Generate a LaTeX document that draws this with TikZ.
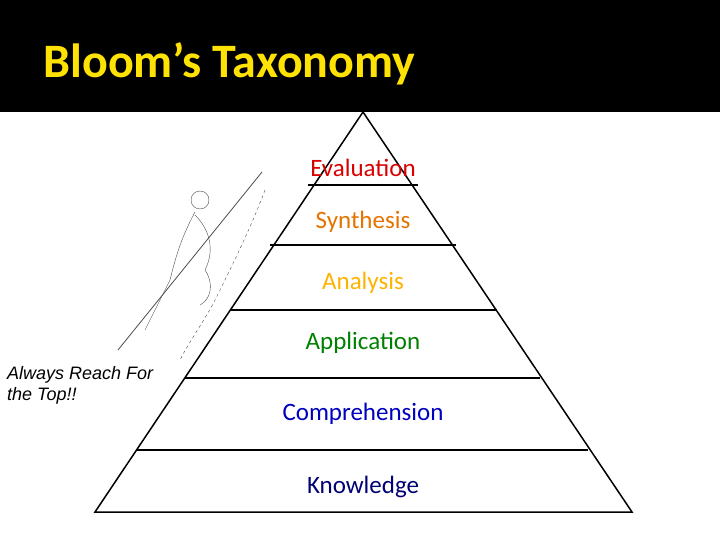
\documentclass[tikz,border=0pt]{standalone}
\usepackage{fontspec}
\setmainfont{Carlito}
\newfontfamily\arialf{Liberation Sans}
\begin{document}
\begin{tikzpicture}[x=1pt,y=-1pt,
  lvl/.style={font=\fontsize{25}{30}\selectfont},
  bar/.style={line width=2.5pt}]
\useasboundingbox (0,0) rectangle (720,540);
\fill[black] (0,0) rectangle (720,112);
\node[anchor=west,text=yellow!85!orange,font=\fontsize{48}{56}\selectfont\bfseries] (title) at (40,64) {Bloom’s Taxonomy};
\coordinate (apex) at (363,112);
\coordinate (bl) at (95,512);
\coordinate (br) at (632,512);
\draw[line width=1.5pt] (bl) -- (apex) -- (br) -- cycle;
\draw[bar] (308,185) -- (418,185);
\draw[bar] (270,245) -- (456,245);
\draw[bar] (230,310) -- (497,310);
\draw[bar] (185,378) -- (540,378);
\draw[bar] (137,450) -- (588,450);
\node[lvl,text=red!85!black] (ev) at (363,168) {Evaluation};
\node[lvl,text=orange!90!black] (sy) at (363,222) {Synthesis};
\node[lvl,text=orange!60!yellow] (an) at (363,283) {Analysis};
\node[lvl,text=green!50!black] (ap) at (363,343) {Application};
\node[lvl,text=blue!75!black] (co) at (363,414) {Comprehension};
\node[lvl,text=blue!45!black] (kn) at (363,487) {Knowledge};
\node[anchor=north west,align=left,font=\arialf\itshape\fontsize{18}{21}\selectfont,inner sep=0pt] (txt) at (7,366) {Always Reach For\\the Top!!};
% sketch of climber
\draw[line width=0.8pt,gray!60!black] (118,350) -- (262,172);
\draw[gray!60!black] (200,200) circle (9);
\draw[gray!60!black] (195,212) .. controls (180,240) and (175,260) .. (170,280)
  (195,215) .. controls (210,230) and (215,250) .. (205,270)
  (170,280) .. controls (160,300) and (150,320) .. (145,330)
  (205,270) .. controls (215,285) and (210,300) .. (200,305);
\draw[gray!60!black,dashed] (265,190) .. controls (250,230) and (230,270) .. (215,300) .. controls (205,320) and (190,340) .. (180,360);
\end{tikzpicture}
\end{document}
